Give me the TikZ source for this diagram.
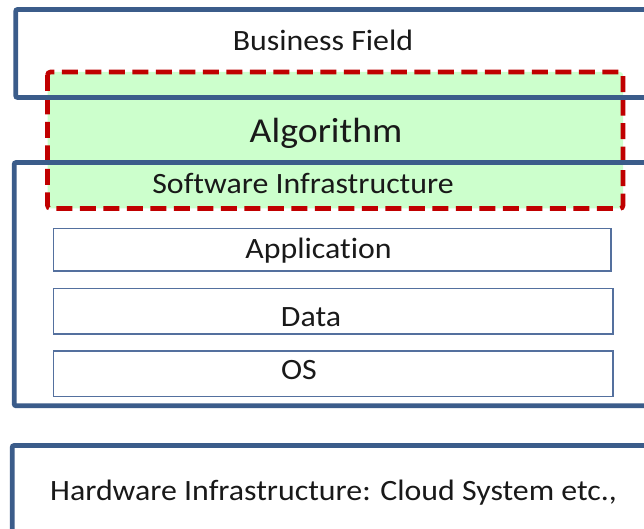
\documentclass[tikz,border=0pt]{standalone}
\usepackage{fontspec}
\setmainfont{Carlito}[FakeStretch=1.08, Ligatures=NoCommon]
\definecolor{boxblue}{RGB}{59,92,138}
\definecolor{innerblue}{RGB}{84,112,158}
\definecolor{dashred}{RGB}{192,0,0}
\definecolor{algfill}{RGB}{204,255,204}
\begin{document}
\begin{tikzpicture}[x=1pt,y=-1pt,
  outerbox/.style={draw=boxblue, line width=4.8pt, rounded corners=2pt},
  innerbox/.style={draw=innerblue, line width=1.6pt},
  algbox/.style={draw=dashred, line width=4.6pt, dash pattern=on 16pt off 7.5pt, rounded corners=3pt},
  lbl/.style={anchor=base, inner sep=0pt, text=black!90, font=\fontsize{29.5}{34}\selectfont},
  biglbl/.style={lbl, font=\fontsize{35}{40}\selectfont}]
\useasboundingbox (0,0) rectangle (644,529);
\fill[white] (0,0) rectangle (644,529);
\clip (0,0) rectangle (644,529);
% algorithm region
\fill[algfill, rounded corners=3pt] (47.5,72) rectangle (623,208.5);
\draw[algbox] (47.5,72) rectangle (623,208.5);
% outer boxes
\draw[outerbox] (15.7,9.5) rectangle (670,97.5);
\draw[outerbox] (14.2,162.5) rectangle (670,405.8);
\draw[outerbox] (12.2,445.5) rectangle (670,560);
% inner boxes
\draw[innerbox] (53.5,228.5) rectangle (611,271);
\draw[innerbox] (53.5,288.5) rectangle (613,334);
\draw[innerbox] (53.5,351) rectangle (613,396.5);
% labels
\node[lbl] (business) at (323,51) {Business Field};
\node[biglbl] (algorithm) at (326,142.5) {Algorithm};
\node[lbl] (software) at (303,194) {Software Infrastructure};
\node[lbl] (application) at (318.5,258) {Application};
\node[lbl] (data) at (311,326) {Data};
\node[lbl] (os) at (299,379) {OS};
\node[lbl, anchor=base west] (hardware) at (50,500) {Hardware Infrastructure: Cloud System etc.,};
\end{tikzpicture}
\end{document}
